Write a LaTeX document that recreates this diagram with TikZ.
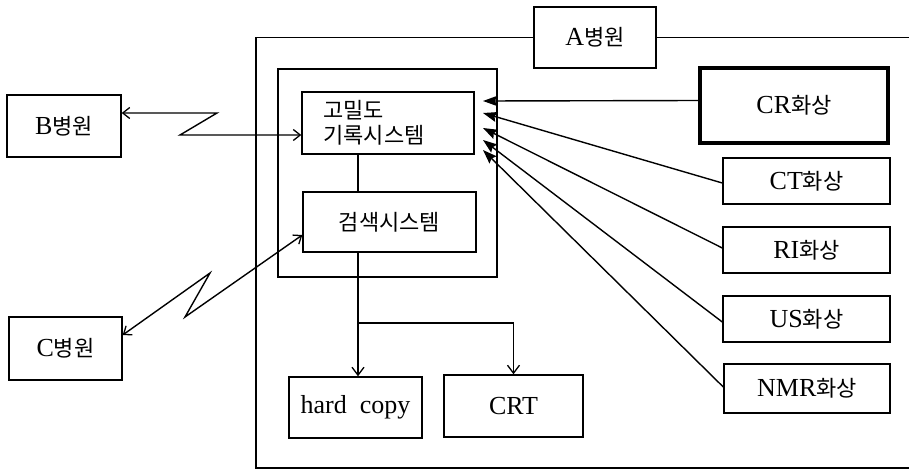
\documentclass[tikz,border=0pt]{standalone}
\usepackage{fontspec}
\setmainfont{Liberation Serif}
\newfontfamily\kr{Noto Sans CJK KR}
\usetikzlibrary{arrows.meta}
\newcommand{\K}[1]{{\kr\fontsize{22}{26}\selectfont #1}}
\tikzset{
  box/.style={draw, line width=1.4pt, inner sep=0pt, font=\fontsize{26}{29}\selectfont},
  thickbox/.style={box, line width=3.2pt},
  conn/.style={line width=1.4pt},
  barb/.style={conn, arrows={Straight Barb[length=7pt,width=11pt,line width=1.3pt]-Straight Barb[length=7pt,width=11pt,line width=1.3pt]}},
  barbend/.style={conn, arrows={-Straight Barb[length=8pt,width=12pt,line width=1.3pt]}},
  filled/.style={conn, arrows={-Stealth[length=14pt,width=10pt,inset=2pt]}}
}
\begin{document}
\begin{tikzpicture}[x=1pt,y=-1pt]
\useasboundingbox (0,0) rectangle (909,471);
% nodes
\node[box, minimum width=122pt, minimum height=61pt] (A) at (595,37.5) {A\K{병원}};
\node[box, minimum width=114pt, minimum height=62pt] (B) at (64,126) {B\K{병원}};
\node[box, minimum width=113pt, minimum height=63pt] (C) at (65.5,348.5) {C\K{병원}};
\node[box, minimum width=172pt, minimum height=62pt, align=left] (rec) at (388,123)
  {\hspace*{-28pt}\K{고밀도}\\[-4pt]\hspace*{-28pt}\K{기록시스템}};
\node[box, minimum width=173pt, minimum height=60pt] (srch) at (389.5,222) {\K{검색시스템}};
\node[box, minimum width=133pt, minimum height=61pt] (hc) at (355.5,407.5) {hard~~copy};
\node[box, minimum width=139pt, minimum height=62pt] (crt) at (513.5,406) {CRT};
\node[thickbox, minimum width=188pt, minimum height=75pt] (CR) at (794,105.5) {CR\K{화상}};
\node[box, minimum width=167pt, minimum height=46pt] (CT) at (806.5,181) {CT\K{화상}};
\node[box, minimum width=167pt, minimum height=46pt] (RI) at (806.5,250) {RI\K{화상}};
\node[box, minimum width=167pt, minimum height=46pt] (US) at (806.5,319) {US\K{화상}};
\node[box, minimum width=166pt, minimum height=49pt] (NMR) at (807,388.5) {NMR\K{화상}};
% frames
\draw[conn] (A.west) -- (256,37.5) -- (256,468) -- (909,468);
\draw[conn] (A.east) -- (909,37.5);
\draw[conn] (278,69) rectangle (497,277);
% coordinates
\coordinate (vx) at (358,0);
\coordinate (br) at (358,323);
\coordinate (zb1) at (217,113);
\coordinate (zb2) at (180,135);
\coordinate (zc1) at (210,273);
\coordinate (zc2) at (185,317);
\coordinate (t1) at (483,101);
\coordinate (t2) at (483,113);
\coordinate (t3) at (483,128);
\coordinate (t4) at (483,140);
\coordinate (t5) at (483,150);
% connectors
\draw[barb] ([yshift=13pt]B.east) -- (zb1) -- (zb2) -- ([yshift=-12pt]rec.west);
\draw[barb] ([yshift=13.5pt]C.east) -- (zc1) -- (zc2) -- ([yshift=-13pt]srch.west);
\draw[conn] (rec.south -| vx) -- (srch.north -| vx);
\draw[barbend] (srch.south -| vx) -- (hc.north -| vx);
\draw[barbend] (br) -| (crt.north);
\draw[filled] ([yshift=5pt]CR.west) -- (t1);
\draw[filled] ([yshift=-2pt]CT.west) -- (t2);
\draw[filled] ([yshift=2pt]RI.west) -- (t3);
\draw[filled] ([yshift=-3pt]US.west) -- (t4);
\draw[filled] ([yshift=1.5pt]NMR.west) -- (t5);
\end{tikzpicture}
\end{document}
